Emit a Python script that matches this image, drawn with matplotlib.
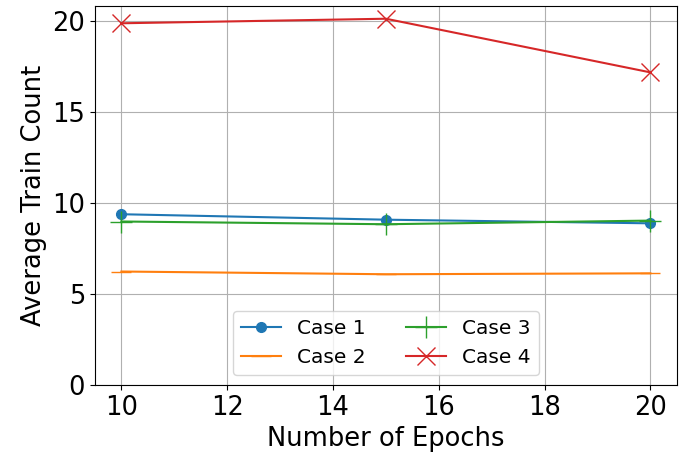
import matplotlib
matplotlib.use("Agg")
from matplotlib import pyplot as plt

epochs = [10, 15, 20]
case1 = [9.4, 9.1, 8.9]
case2 = [6.25, 6.1, 6.15]
case3 = [9.0, 8.85, 9.05]
case4 = [19.9, 20.15, 17.2]

fig = plt.figure(figsize=(6.83, 4.58), dpi=100)
ax = fig.add_axes([0.139, 0.159, 0.852, 0.828])
ax.plot(epochs, case1, marker='o', markersize=7, label='Case 1')
ax.plot(epochs, case2, marker='_', markersize=14, label='Case 2')
ax.plot(epochs, case3, marker='+', markersize=16, label='Case 3')
ax.plot(epochs, case4, marker='x', markersize=13, label='Case 4')

ax.set_ylim(bottom=0)
ax.grid(True)
ax.set_xlabel('Number of Epochs', fontsize=18.5)
ax.set_ylabel('Average Train Count', fontsize=18.5)
ax.tick_params(labelsize=18.5)
ax.legend(loc='lower center', ncol=2, fontsize=14.5)

fig.savefig('out.png')
